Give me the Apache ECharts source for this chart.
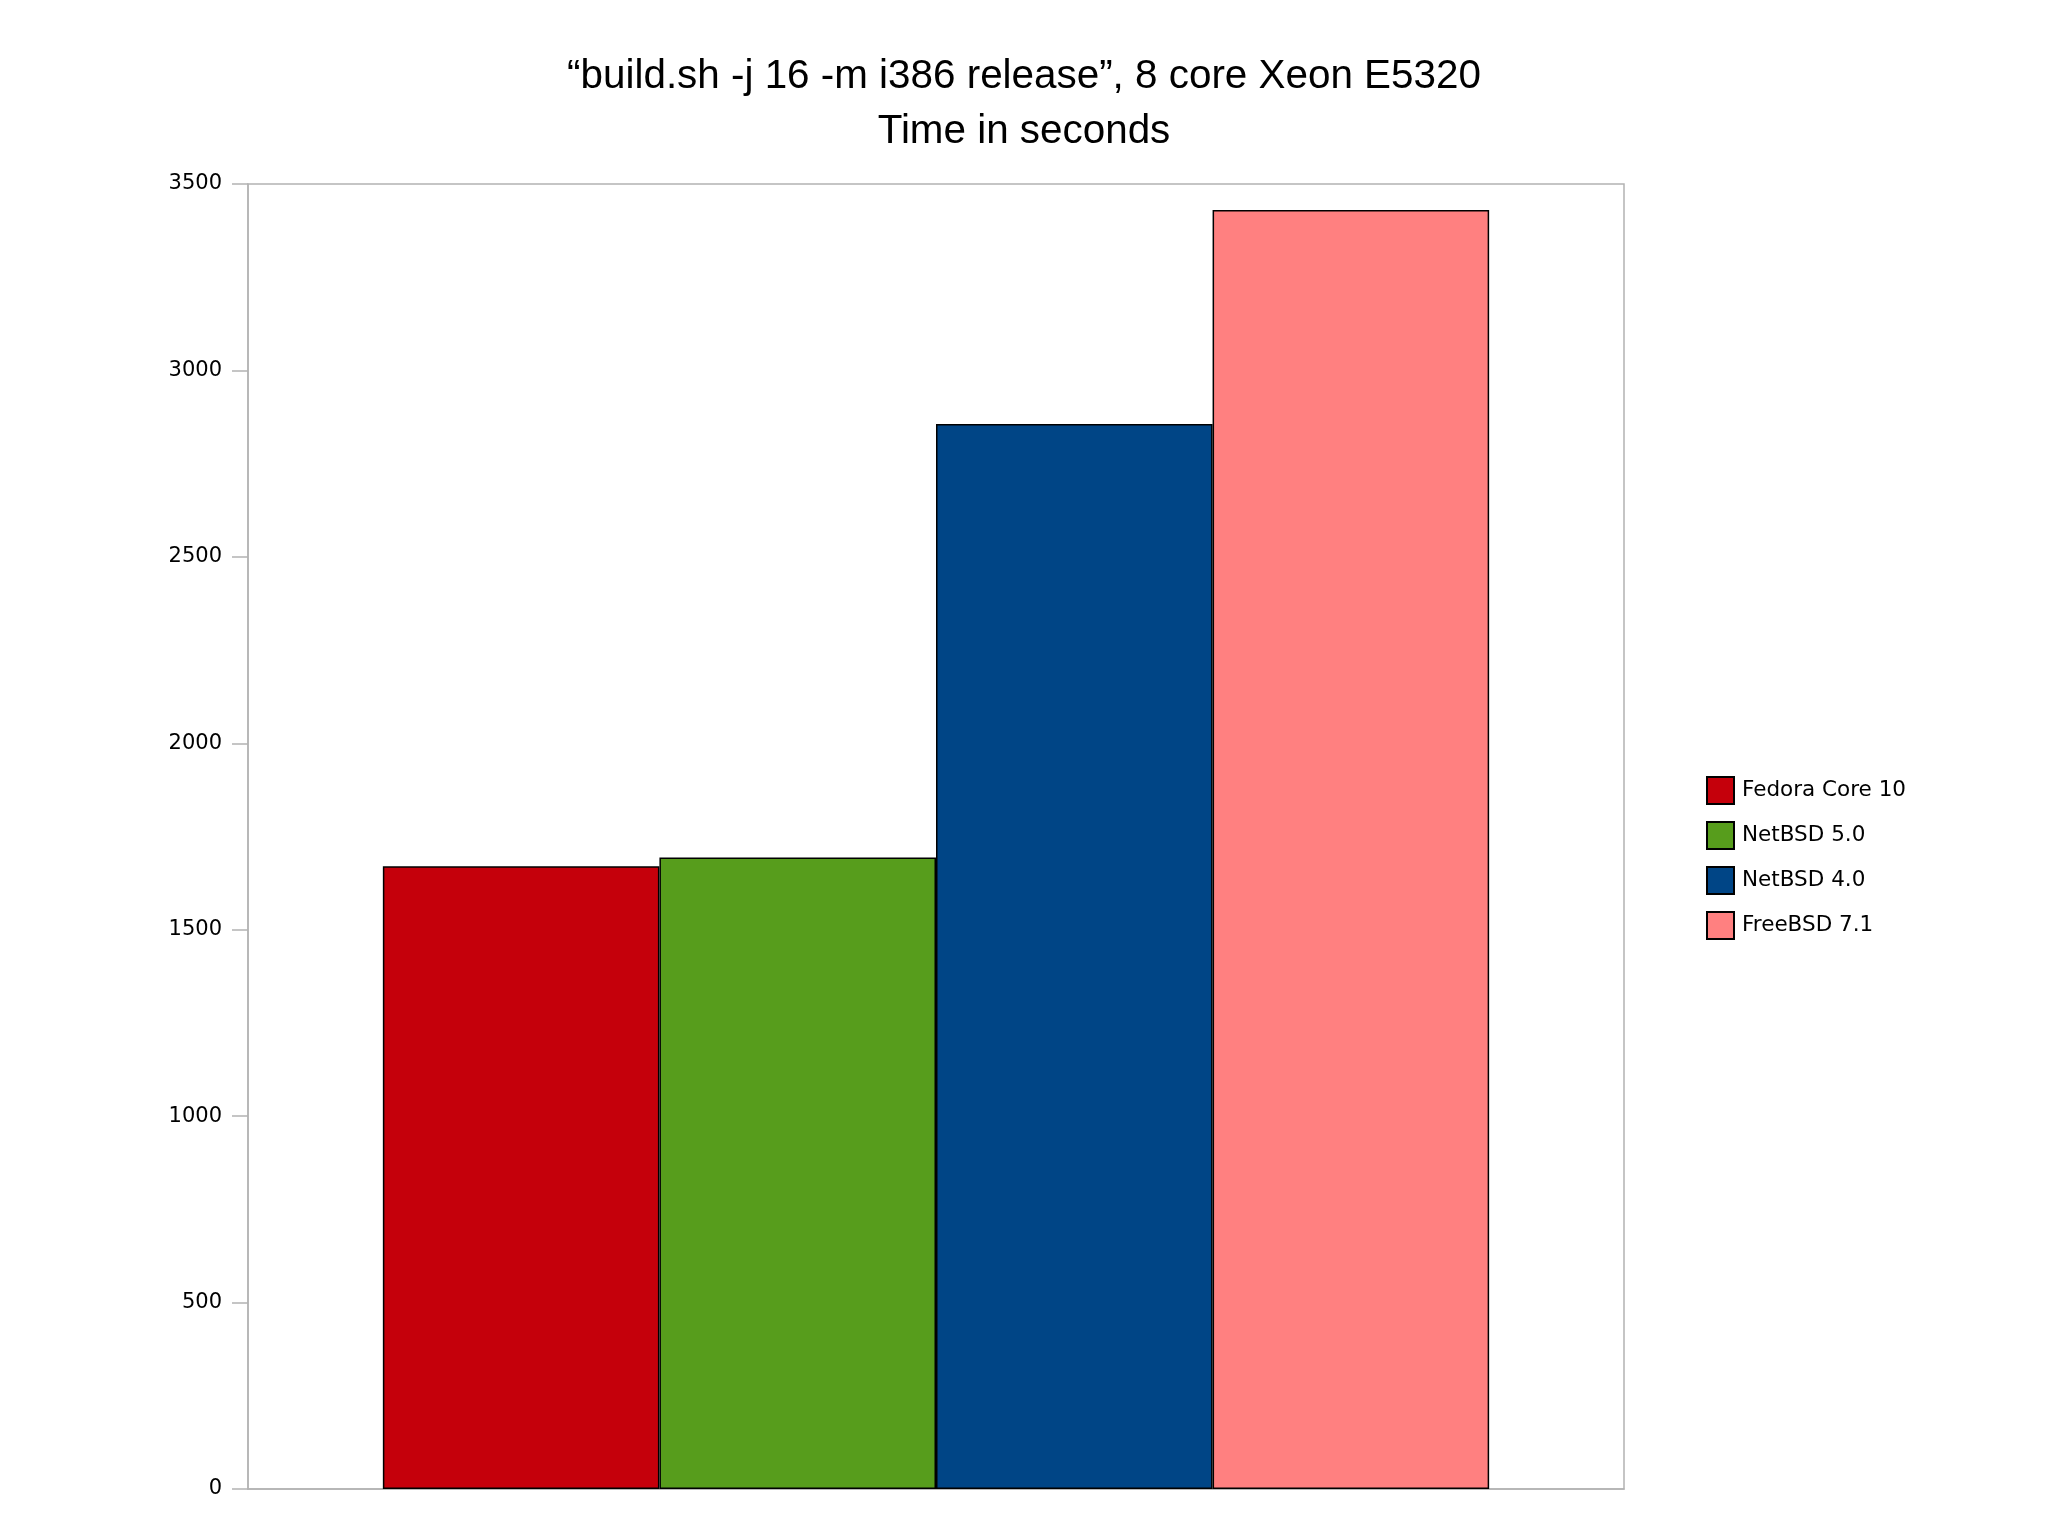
<!DOCTYPE html>
<html>
<head>
<meta charset="utf-8">
<script src="https://cdn.jsdelivr.net/npm/echarts@6/dist/echarts.min.js"></script>
<style>
html,body{margin:0;padding:0;background:#fff;}
#chart{width:2048px;height:1535px;}
</style>
</head>
<body>
<div id="chart"></div>
<script>
var titleLines = ['\u201cbuild.sh -j 16 -m i386 release\u201d, 8 core Xeon E5320', 'Time in seconds'];
var categories = [''];
var seriesNames = ['Fedora Core 10', 'NetBSD 5.0', 'NetBSD 4.0', 'FreeBSD 7.1'];
var seriesValues = [1670, 1694, 2856, 3430];
var seriesColors = ['#c5000b', '#579d1c', '#004586', '#ff8080'];
var yTicks = { min: 0, max: 3500, interval: 500 };

var chart = echarts.init(document.getElementById('chart'), null, { renderer: 'canvas' });
var series = seriesNames.map(function (name, i) {
  return {
    name: name,
    type: 'bar',
    data: [seriesValues[i]],
    barGap: '0%',
    barCategoryGap: '19.6%',
    itemStyle: { color: seriesColors[i], borderColor: '#000', borderWidth: 1.5 }
  };
});
chart.setOption({
  animation: false,
  backgroundColor: '#ffffff',
  title: {
    text: titleLines.join('\n'),
    left: 'center',
    top: 44,
    textStyle: { fontFamily: 'Liberation Sans', fontSize: 40.4, fontWeight: 'normal', color: '#000', lineHeight: 55 }
  },
  grid: { left: 248, right: 424, top: 184, bottom: 46, show: true, borderColor: '#b3b3b3', borderWidth: 1.5, backgroundColor: 'transparent' },
  legend: {
    orient: 'vertical',
    left: 1701,
    top: 771,
    itemWidth: 27,
    itemHeight: 27,
    itemGap: 16,
    icon: 'rect',
    textStyle: { fontFamily: 'DejaVu Sans', fontSize: 21.5, color: '#000', padding: [0, 0, 0, 3] },
    data: seriesNames
  },
  xAxis: {
    type: 'category',
    data: categories,
    axisLine: { show: true, lineStyle: { color: '#b3b3b3', width: 1.5 } },
    axisTick: { show: false },
    axisLabel: { show: false },
    splitLine: { show: false }
  },
  yAxis: {
    type: 'value',
    min: yTicks.min,
    max: yTicks.max,
    interval: yTicks.interval,
    axisLine: { show: true, lineStyle: { color: '#b3b3b3', width: 1.5 } },
    axisTick: { show: true, length: 16, lineStyle: { color: '#b3b3b3', width: 1.5 } },
    axisLabel: { fontFamily: 'DejaVu Sans', fontSize: 21, color: '#000', margin: 26, formatter: function (v) { return String(v); } },
    splitLine: { show: false }
  },
  series: series
});
</script>
</body>
</html>
